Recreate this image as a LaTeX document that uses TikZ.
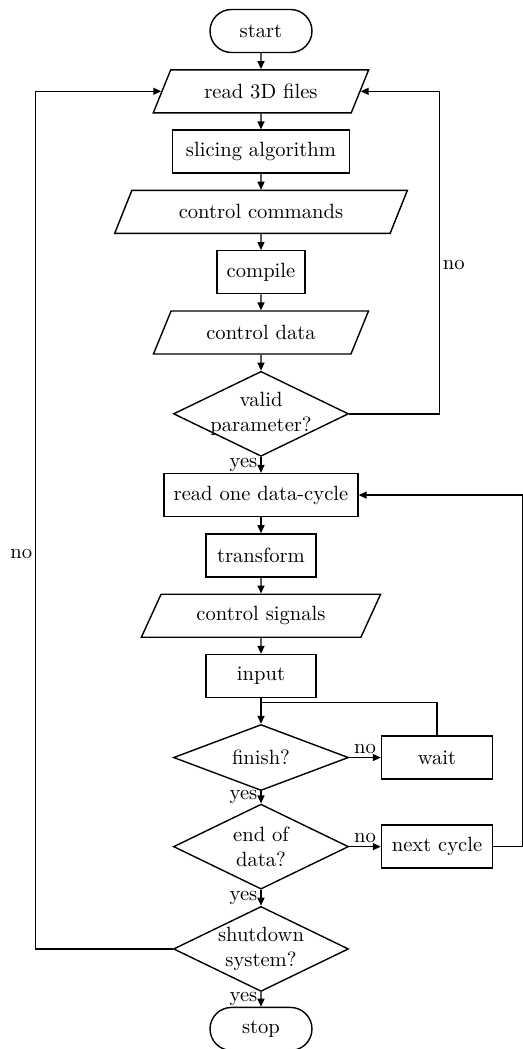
\documentclass[tikz,border=0pt]{standalone}
\usepackage{tikz}
\usetikzlibrary{arrows.meta, shapes.geometric, shapes.misc, positioning, calc}
\tikzset{
  term/.style  = {draw, rounded rectangle, minimum width=55pt,
                  minimum height=21.5pt, inner sep=2pt},
  proc/.style  = {draw, rectangle, minimum height=21.5pt, inner sep=2pt},
  io/.style    = {draw, trapezium, trapezium left angle=63,
                  trapezium right angle=117, trapezium stretches=true,
                  minimum height=21.5pt, inner sep=2pt},
  cond/.style  = {draw, diamond, aspect=2.06, minimum width=87.5pt,
                  minimum height=42.5pt, inner xsep=-3.5pt, inner ysep=-0.5pt,
                  align=center},
  arrow/.style = {-{Triangle[length=4pt, width=3.5pt]}},
  lab/.style   = {inner sep=1.5pt},
}

\begin{document}
\begin{tikzpicture}[
  x=1pt, y=1pt, line width=0.7pt,
  node distance = 7.95pt and 15.8pt,
  every node/.style = {font=\fontsize{10.3}{12.3}\selectfont}]

  \useasboundingbox (-130.5,15.5) rectangle (131,-509);

  % ---------- main column --------------------------------------------
  \node[term] (start) at (0,0) {start};
  \node[io, minimum width=108pt, below=of start] (read) {read 3D files};
  \node[proc, minimum width=88.5pt, below=of read] (slice) {slicing algorithm};
  \node[io, minimum width=147pt, below=of slice] (cmd) {control commands};
  \node[proc, minimum width=44pt, below=of cmd] (comp) {compile};
  \node[io, minimum width=108pt, below=of comp] (cdata) {control data};
  \node[cond, below=of cdata] (valid) {valid\\parameter?};
  \node[proc, minimum width=97pt, below=of valid] (cycle) {read one data-cycle};
  \node[proc, minimum width=55pt, below=of cycle] (trans) {transform};
  \node[io, minimum width=120.5pt, below=of trans] (sig) {control signals};
  \node[proc, minimum width=55pt, below=of sig] (inp) {input};
  \node[cond, minimum height=33pt, below=12.8pt of inp] (fin) {finish?};
  \node[cond, below=6.1pt of fin] (eod) {end of\\data?};
  \node[cond, below=of eod] (shut) {shutdown\\system?};
  \node[term, below=7.3pt of shut] (stop) {stop};

  % ---------- side boxes ---------------------------------------------
  \node[proc, minimum width=55.5pt, right=of fin] (wait) {wait};
  \node[proc, minimum width=55.5pt, right=of eod] (next) {next cycle};

  % ---------- loop-back corners --------------------------------------
  \coordinate[right=45pt of valid.east] (vr);
  \coordinate[left=68.5pt of shut.west] (sl);
  \coordinate[right=14.5pt of next.east] (nr);
  \coordinate[below=2pt of inp.south] (jn);

  % ---------- connectors ---------------------------------------------
  \draw[arrow] (start) -- (read);
  \draw[arrow] (read) -- (slice);
  \draw[arrow] (slice) -- (cmd);
  \draw[arrow] (cmd) -- (comp);
  \draw[arrow] (comp) -- (cdata);
  \draw[arrow] (cdata) -- (valid);
  \draw[arrow] (valid) -- node[lab, left] {yes} (cycle);
  \draw[arrow] (valid.east) -- (vr) |- node[lab, pos=0.23, right] {no} (read.east);
  \draw[arrow] (cycle) -- (trans);
  \draw[arrow] (trans) -- (sig);
  \draw[arrow] (sig) -- (inp);
  \draw[arrow] (inp) -- (fin);
  \draw (wait.north) |- (jn);
  \draw[arrow] (fin) -- node[lab, above] {no} (wait);
  \draw[arrow] (fin) -- node[lab, left] {yes} (eod);
  \draw[arrow] (eod) -- node[lab, above] {no} (next);
  \draw[arrow] (next.east) -- (nr) |- (cycle.east);
  \draw[arrow] (eod) -- node[lab, left] {yes} (shut);
  \draw[arrow] (shut.west) -- (sl) |- node[lab, pos=0.23, left] {no} (read.west);
  \draw[arrow] (shut) -- node[lab, left] {yes} (stop);
\end{tikzpicture}
\end{document}
